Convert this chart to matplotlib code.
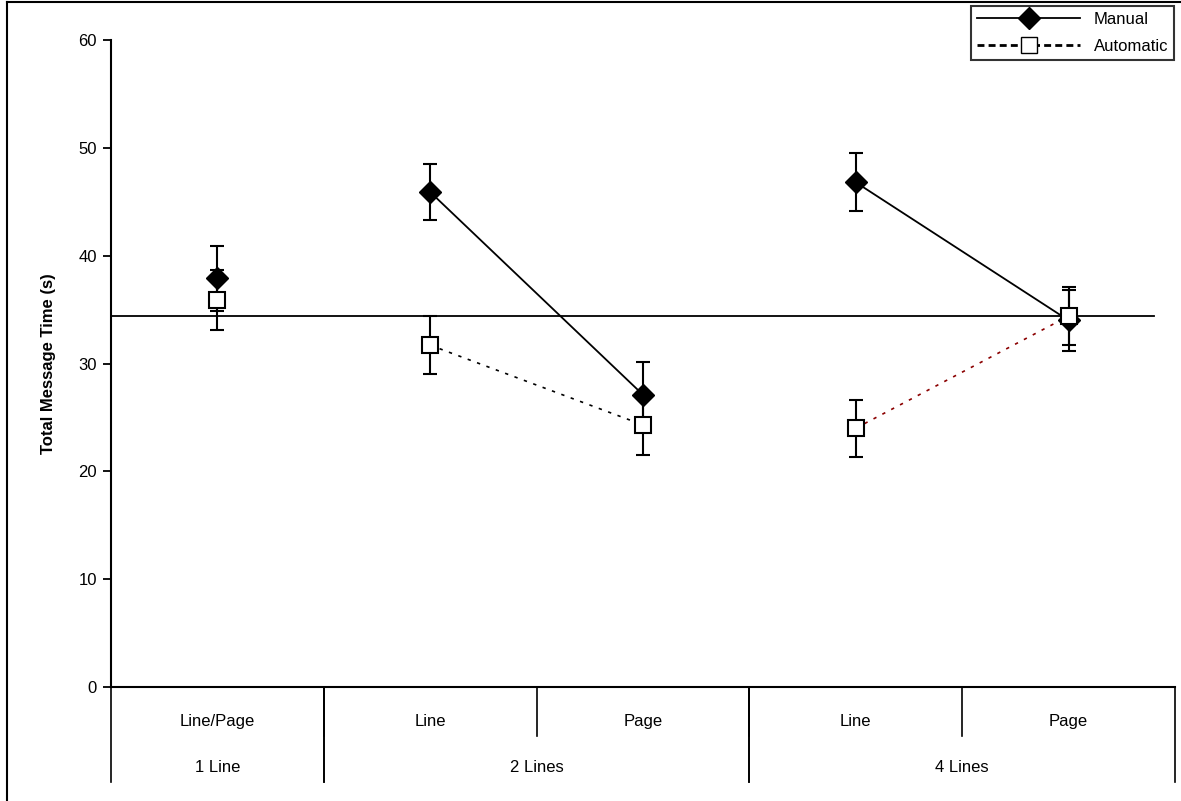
import numpy as np
import matplotlib
matplotlib.use('Agg')
import matplotlib.pyplot as plt
from matplotlib.lines import Line2D

plt.rcParams['font.family'] = ['Liberation Sans', 'DejaVu Sans']

# DATA
conditions = ['Line/Page', 'Line', 'Page', 'Line', 'Page']
groups = ['1 Line', '2 Lines', '4 Lines']
group_spans = [(0, 1), (1, 3), (3, 5)]  # which conditions belong to each group
manual = [37.9, 45.9, 27.1, 46.8, 34.0]
manual_err = [3.0, 2.6, 3.0, 2.7, 2.8]
automatic = [35.9, 31.7, 24.3, 24.0, 34.4]
automatic_err = [2.8, 2.7, 2.8, 2.65, 2.7]
overall_mean = 34.4
connected = [(1, 2), (3, 4)]  # pairs joined by lines
auto_line_colors = ['black', '#8b0000']

x = np.arange(len(conditions)) + 0.5

fig = plt.figure(figsize=(11.81, 8.01), dpi=100)
ax = fig.add_axes([111/1181, 114/801, 1064/1181, 647/801])

# figure border (only top and left visible in the original)
fig.add_artist(Line2D([7/1181, 7/1181], [0, 1 - 2/801], transform=fig.transFigure,
                      color='black', linewidth=1.5))
fig.add_artist(Line2D([7/1181, 1], [1 - 2/801, 1 - 2/801], transform=fig.transFigure,
                      color='black', linewidth=1.5))

# overall mean line
ax.plot([0, 4.9], [overall_mean, overall_mean], color='black', linewidth=1.3, zorder=2)

# connecting lines
for i, (a, b) in enumerate(connected):
    ax.plot([x[a], x[b]], [manual[a], manual[b]], color='black', linewidth=1.3, zorder=3)
    ax.plot([x[a], x[b]], [automatic[a], automatic[b]], color=auto_line_colors[i],
            linewidth=1.2, linestyle=(0, (2, 4)), zorder=3)

# error bars
ax.errorbar(x, manual, yerr=manual_err, fmt='none', ecolor='black', elinewidth=1.5,
            capsize=5, capthick=1.5, zorder=4)
ax.errorbar(x, automatic, yerr=automatic_err, fmt='none', ecolor='black', elinewidth=1.5,
            capsize=5, capthick=1.5, zorder=4)

# markers
ax.plot(x, manual, linestyle='none', marker='D', markersize=11, color='black', zorder=5)
ax.plot(x, automatic, linestyle='none', marker='s', markersize=11, markerfacecolor='white',
        markeredgecolor='black', markeredgewidth=1.5, zorder=6)

ax.set_xlim(0, 5)
ax.set_ylim(0, 60)
ax.set_yticks(range(0, 61, 10))
ax.tick_params(axis='y', direction='out', length=6, width=1.3, labelsize=12, pad=4)
ax.set_xticks([])
for s in ['top', 'right']:
    ax.spines[s].set_visible(False)
ax.spines['left'].set_linewidth(1.5)
ax.spines['bottom'].set_linewidth(1.5)
ax.set_ylabel('Total Message Time (s)', fontsize=12, fontweight='bold', labelpad=16)

# category axis below
tr = ax.get_xaxis_transform()
for i, lab in enumerate(conditions):
    ax.text(x[i], -0.054, lab, transform=tr, ha='center', va='center', fontsize=12)
    if i > 0:
        ax.plot([i, i], [0, -0.076], transform=tr, color='black', linewidth=1.2, clip_on=False)
for lab, (a, b) in zip(groups, group_spans):
    ax.text((a + b) / 2, -0.124, lab, transform=tr, ha='center', va='center', fontsize=12)
    ax.plot([a, a], [0, -0.147], transform=tr, color='black', linewidth=1.2, clip_on=False)
    ax.plot([b, b], [0, -0.147], transform=tr, color='black', linewidth=1.2, clip_on=False)

handles = [Line2D([], [], color='black', linewidth=1.3, marker='D', markersize=11),
           Line2D([], [], color='black', linewidth=2, linestyle=(0, (2.5, 1.5)), marker='s',
                  markersize=11, markerfacecolor='white', markeredgecolor='black')]
leg = fig.legend(handles, ['Manual', 'Automatic'], loc='upper right',
                 bbox_to_anchor=(1174/1181, 1 - 6/801), bbox_transform=fig.transFigure,
                 fontsize=12, frameon=True, fancybox=False, handlelength=6.2,
                 labelspacing=0.75, borderpad=0.35, borderaxespad=0)
leg.get_frame().set_edgecolor('black')
leg.get_frame().set_linewidth(1.5)

fig.savefig('out.png', dpi=100)
